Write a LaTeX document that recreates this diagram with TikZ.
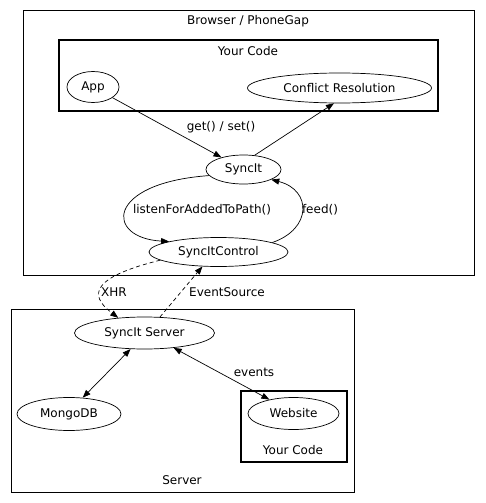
\documentclass[tikz,border=0pt]{standalone}
\usepackage{fontspec}
\setmainfont{DejaVu Sans}
\usetikzlibrary{arrows.meta,shapes.geometric}
\begin{document}
\begin{tikzpicture}[x=1pt,y=-1pt,
  every node/.style={font=\fontsize{12}{14}\selectfont},
  ell/.style={draw,ellipse,inner sep=0pt,line width=0.7pt},
  cluster/.style={draw,line width=0.7pt},
  thickcluster/.style={draw,line width=1.6pt},
  lbl/.style={inner sep=0pt},
  edge/.style={line width=0.7pt,-{Triangle[length=8pt,width=6pt]}},
  bedge/.style={line width=0.7pt,{Triangle[length=8pt,width=6pt]}-{Triangle[length=8pt,width=6pt]}},
  dedge/.style={edge,dash pattern=on 4pt off 3pt}]
\useasboundingbox (0,0) rectangle (485,503);
% clusters
\draw[cluster] (23,10) rectangle (474,275);
\node[lbl] (tbrowser) at (248,21) {Browser / PhoneGap};
\draw[thickcluster] (59,40) rectangle (438,111);
\node[lbl] (tyc1) at (248,51) {Your Code};
\draw[cluster] (11,309) rectangle (354,492);
\node[lbl] (tserver) at (182,480) {Server};
\draw[thickcluster] (241,391) rectangle (347,462);
\node[lbl] (tyc2) at (293,450) {Your Code};
% nodes
\node[ell,minimum width=52pt,minimum height=31pt] (app) at (93,87) {App};
\node[ell,minimum width=184pt,minimum height=30pt] (cr) at (339.5,88) {Conflict Resolution};
\node[ell,minimum width=75pt,minimum height=29pt] (s) at (243.5,169.5) {SyncIt};
\node[ell,minimum width=139pt,minimum height=29pt] (c) at (218.5,252) {SyncItControl};
\node[ell,minimum width=140pt,minimum height=32pt] (ss) at (144.5,333) {SyncIt Server};
\node[ell,minimum width=104pt,minimum height=33pt] (mdb) at (69,414) {MongoDB};
\node[ell,minimum width=91pt,minimum height=32pt] (web) at (293.5,413.5) {Website};
% edges
\draw[edge] (app) -- (s);
\draw[edge] (s.52) -- (cr.250);
\draw[edge] (s.190) .. controls (105,183) and (105,238) .. (c.168);
\draw[edge] (c.10) .. controls (312,229) and (312,190) .. (s.-20);
\draw[dedge] (c.188) .. controls (80,280) and (95,300) .. (ss.150);
\draw[dedge] (ss.46) -- (c.222);
\draw[bedge] (mdb.50) -- (ss.229);
\draw[bedge] (web.150) -- (ss.333);
% edge labels
\node[lbl] (l1) at (221,127) {get() / set()};
\node[lbl] (l2) at (202,210) {listenForAddedToPath()};
\node[lbl] (l3) at (320,210) {feed()};
\node[lbl] (l4) at (114,292) {XHR};
\node[lbl] (l5) at (227,292) {EventSource};
\node[lbl] (l6) at (254,372) {events};
\end{tikzpicture}
\end{document}
